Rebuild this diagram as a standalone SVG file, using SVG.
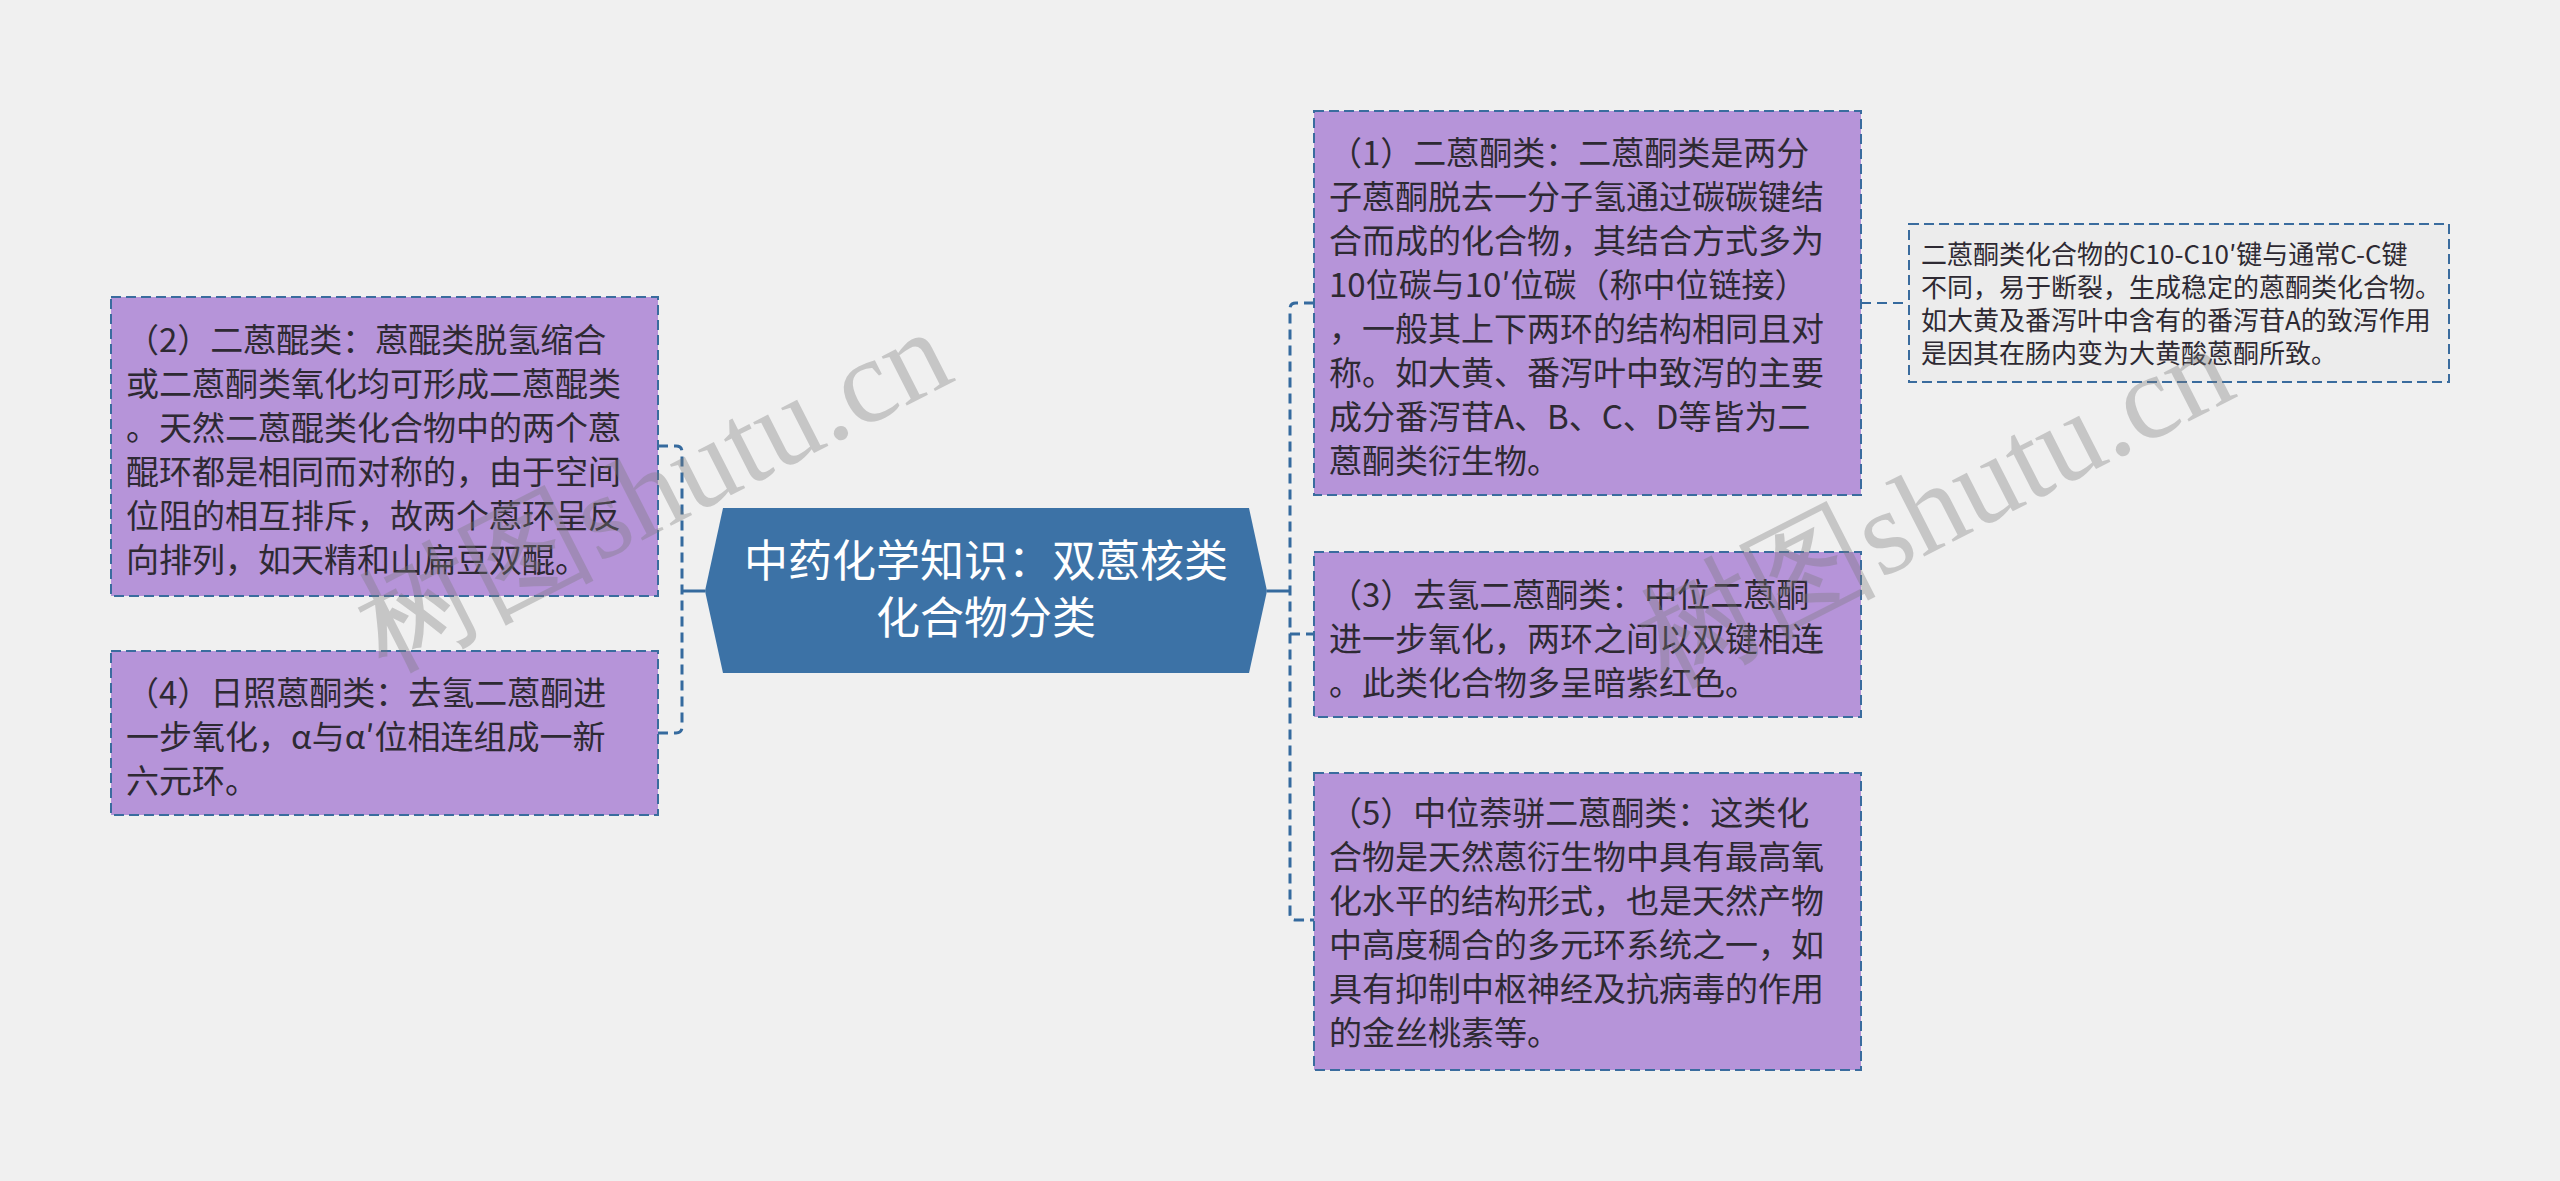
<svg xmlns="http://www.w3.org/2000/svg" width="2560" height="1181" viewBox="0 0 2560 1181">
<style>
.bg{fill:#f0f0f0}
.box{fill:#b694d9;stroke:#3a6c9e;stroke-width:2;stroke-dasharray:10 5}
.note{fill:#ececec;stroke:#3a6c9e;stroke-width:2;stroke-dasharray:10 5}
.t{font-family:"Noto Sans CJK SC","Noto Sans",sans-serif;font-size:33px;fill:#2e2a33}
.nt{font-family:"Noto Sans CJK SC","Noto Sans",sans-serif;font-size:26px;fill:#2e2a33}
.ct{font-family:"Noto Sans CJK SC","Noto Sans",sans-serif;font-size:44px;fill:#ffffff;text-anchor:middle}
.dash{fill:none;stroke:#356a9e;stroke-width:3;stroke-dasharray:10 6}
.thin{fill:none;stroke:#356a9e;stroke-width:2;stroke-dasharray:10 6}
.solid{fill:none;stroke:#356a9e;stroke-width:3}
.wm{font-family:"Liberation Serif",serif;font-size:120px;fill:#7a7a7a;opacity:0.35}
</style>
<rect class="bg" x="0" y="0" width="2560" height="1181"/>

<g id="connectors">
<path class="solid" d="M705 591 L682 591"/>
<path class="dash" d="M658 446 L676 446 Q682 446 682 452 L682 727 Q682 733 676 733 L658 733"/>
<path class="solid" d="M1267 591 L1290 591"/>
<path class="dash" d="M1314 303 L1296 303 Q1290 303 1290 309 L1290 914 Q1290 920 1296 920 L1314 920"/>
<path class="dash" d="M1290 634 L1314 634"/>
<path class="thin" d="M1861 303 L1909 303"/>
</g>

<g id="center">
<polygon points="723,508 1249,508 1267,591 1249,673 723,673 705,591" fill="#3c72a6"/>
<text class="ct" x="986" y="577">中药化学知识：双蒽核类</text>
<text class="ct" x="986" y="634">化合物分类</text>
</g>

<g id="node2">
<rect class="box" x="111" y="297" width="547" height="299"/>
<text class="t" x="126" y="352">（2）二蒽醌类：蒽醌类脱氢缩合</text>
<text class="t" x="126" y="396">或二蒽酮类氧化均可形成二蒽醌类</text>
<text class="t" x="126" y="440">。天然二蒽醌类化合物中的两个蒽</text>
<text class="t" x="126" y="484">醌环都是相同而对称的，由于空间</text>
<text class="t" x="126" y="528">位阻的相互排斥，故两个蒽环呈反</text>
<text class="t" x="126" y="572">向排列，如天精和山扁豆双醌。</text>
</g>

<g id="node4">
<rect class="box" x="111" y="651" width="547" height="164"/>
<text class="t" x="126" y="705">（4）日照蒽酮类：去氢二蒽酮进</text>
<text class="t" x="126" y="749">一步氧化，α与α′位相连组成一新</text>
<text class="t" x="126" y="793">六元环。</text>
</g>

<g id="node1">
<rect class="box" x="1314" y="111" width="547" height="384"/>
<text class="t" x="1329" y="165">（1）二蒽酮类：二蒽酮类是两分</text>
<text class="t" x="1329" y="209">子蒽酮脱去一分子氢通过碳碳键结</text>
<text class="t" x="1329" y="253">合而成的化合物，其结合方式多为</text>
<text class="t" x="1329" y="297">10位碳与10′位碳（称中位链接）</text>
<text class="t" x="1329" y="341">，一般其上下两环的结构相同且对</text>
<text class="t" x="1329" y="385">称。如大黄、番泻叶中致泻的主要</text>
<text class="t" x="1329" y="429">成分番泻苷A、B、C、D等皆为二</text>
<text class="t" x="1329" y="473">蒽酮类衍生物。</text>
</g>

<g id="node3">
<rect class="box" x="1314" y="552" width="547" height="165"/>
<text class="t" x="1329" y="607">（3）去氢二蒽酮类：中位二蒽酮</text>
<text class="t" x="1329" y="651">进一步氧化，两环之间以双键相连</text>
<text class="t" x="1329" y="695">。此类化合物多呈暗紫红色。</text>
</g>

<g id="node5">
<rect class="box" x="1314" y="773" width="547" height="297"/>
<text class="t" x="1329" y="825">（5）中位萘骈二蒽酮类：这类化</text>
<text class="t" x="1329" y="869">合物是天然蒽衍生物中具有最高氧</text>
<text class="t" x="1329" y="913">化水平的结构形式，也是天然产物</text>
<text class="t" x="1329" y="957">中高度稠合的多元环系统之一，如</text>
<text class="t" x="1329" y="1001">具有抑制中枢神经及抗病毒的作用</text>
<text class="t" x="1329" y="1045">的金丝桃素等。</text>
</g>

<g id="note1">
<rect class="note" x="1909" y="224" width="540" height="158"/>
<text class="nt" x="1921" y="264">二蒽酮类化合物的C10-C10′键与通常C-C键</text>
<text class="nt" x="1921" y="297">不同，易于断裂，生成稳定的蒽酮类化合物。</text>
<text class="nt" x="1921" y="330">如大黄及番泻叶中含有的番泻苷A的致泻作用</text>
<text class="nt" x="1921" y="363">是因其在肠内变为大黄酸蒽酮所致。</text>
</g>

<g id="watermarks">
<text class="wm" x="653" y="530" text-anchor="middle" transform="rotate(-27 653 490)">树图shutu.cn</text>
<text class="wm" x="1935" y="546" text-anchor="middle" transform="rotate(-27 1935 506)">树图shutu.cn</text>
</g>
</svg>
